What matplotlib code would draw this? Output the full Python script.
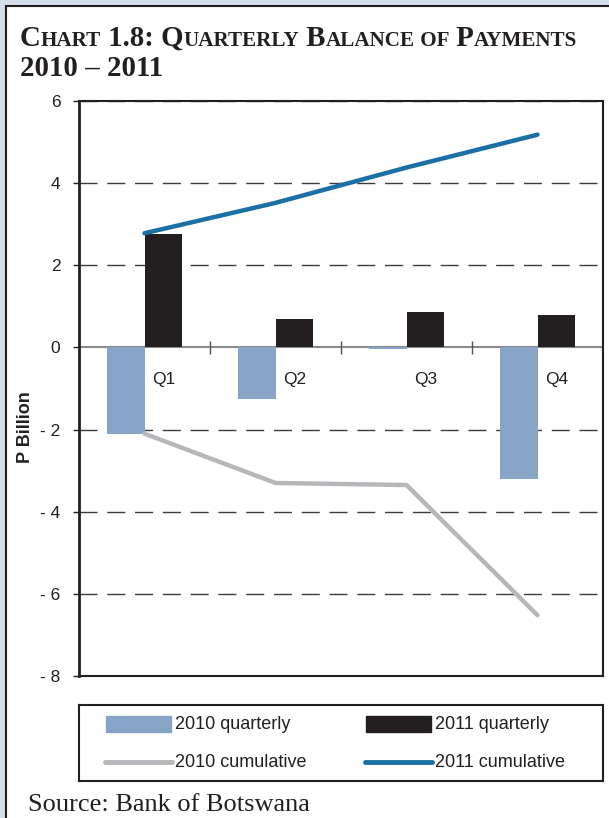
import numpy as np
import matplotlib.pyplot as plt
from matplotlib.patches import Rectangle

plt.rcParams['font.family'] = ['Liberation Sans', 'DejaVu Sans']

# quarterly and cumulative balance of payments, P billion
quarters = ["Q1", "Q2", "Q3", "Q4"]
q2010 = [-2.10, -1.26, -0.03, -3.21]
q2011 = [2.76, 0.69, 0.86, 0.80]
cum2010 = [-2.10, -3.30, -3.35, -6.52]
cum2011 = [2.78, 3.52, 4.38, 5.18]
yticks = [6, 4, 2, 0, -2, -4, -6, -8]

c_bar10 = "#87a4c7"
c_bar11 = "#231f20"
c_cum10 = "#b5b7ba"
c_cum11 = "#1a6fa5"
c_dark = "#231f20"

W, H = 609, 818
fig = plt.figure(figsize=(W / 100, H / 100), dpi=100)
fig.patch.set_facecolor("#d5dfeb")


def fx(x):
    return x / W


def fy(y):
    return 1 - y / H


# white page panel
fig.patches.append(Rectangle((fx(6), fy(830)), fx(630 - 6), (830 - 6) / H,
                             transform=fig.transFigure, facecolor="white",
                             edgecolor=c_dark, lw=1.5, zorder=-5))

# title with small caps
def small_caps(x, y, parts):
    r = fig.canvas.get_renderer()
    for s, size in parts:
        t = fig.text(fx(x), fy(y), s, fontsize=size, weight="bold",
                     family="Liberation Serif", va="baseline", ha="left",
                     color=c_dark)
        x = t.get_window_extent(r).x1


big, sm = 20.8, 15.2
small_caps(20, 46, [("C", big), ("HART", sm), (" 1.8: Q", big), ("UARTERLY", sm),
                    (" B", big), ("ALANCE", sm), (" OF", sm), (" P", big),
                    ("AYMENTS", sm)])
fig.text(fx(20), fy(76), "2010 \u2013 2011", fontsize=big, weight="bold",
         family="Liberation Serif", va="baseline", color=c_dark)

ax = fig.add_axes([fx(79), fy(676), fx(603 - 79), (676 - 101) / H])
x = np.arange(len(quarters))
w = 0.29

for v in [6, 4, 2, -2, -4, -6]:
    ax.axhline(v, color="#3c3c3c", lw=1, linestyle=(0, (13, 7)), zorder=1)
ax.axhline(0, color="#8a8a8a", lw=1.5, zorder=1)
ax.vlines([0.5, 1.5, 2.5], -0.15, 0.15, color="#555555", lw=1, zorder=1)

ax.bar(x - w / 2, q2010, w, color=c_bar10, zorder=2)
ax.bar(x + w / 2, q2011, w, color=c_bar11, zorder=2)
ax.plot(x, cum2010, color=c_cum10, lw=3.2, solid_capstyle="round", zorder=3)
ax.plot(x, cum2011, color=c_cum11, lw=3.2, solid_capstyle="round", zorder=3)

for i, q in enumerate(quarters):
    ax.text(x[i] + w / 2, -0.77, q, ha="center", va="center", fontsize=12.5,
            color=c_dark)

ax.set_xlim(-0.5, 3.5)
ax.set_ylim(-8, 6)
ax.set_xticks([])
ax.set_yticks(yticks)
ax.set_yticklabels([f"- {abs(v)}" if v < 0 else str(v) for v in yticks])
ax.tick_params(axis="y", direction="out", length=4.5, width=1, color=c_dark,
               pad=9, labelsize=12.5, labelcolor=c_dark)
for s in ax.spines.values():
    s.set_color(c_dark)
    s.set_linewidth(1.5)
ax.spines["left"].set_linewidth(2)

fig.text(fx(25), fy(427), "P Billion", rotation=90, weight="bold", fontsize=13,
         ha="center", va="center", color=c_dark)

# legend box
lax = fig.add_axes([fx(79), fy(781), fx(603 - 79), (781 - 705) / H])
lax.set_xlim(79, 603)
lax.set_ylim(781, 705)
lax.set_xticks([])
lax.set_yticks([])
for s in lax.spines.values():
    s.set_color(c_dark)
    s.set_linewidth(1.5)

entries = [("bar", c_bar10, "2010 quarterly", 106, 724),
           ("bar", c_bar11, "2011 quarterly", 366, 724),
           ("line", c_cum10, "2010 cumulative", 106, 762),
           ("line", c_cum11, "2011 cumulative", 366, 762)]
for kind, col, label, x0, y0 in entries:
    if kind == "bar":
        lax.add_patch(Rectangle((x0, y0 - 8), 65, 16, color=col))
    else:
        lax.plot([x0 - 1, x0 + 66], [y0, y0], color=col, lw=3.5,
                 solid_capstyle="round")
    lax.text(x0 + 69, y0, label, fontsize=13, va="center", ha="left",
             color=c_dark)

fig.text(fx(28), fy(811), "Source: Bank of Botswana", family="Liberation Serif",
         fontsize=19, va="baseline", color=c_dark)

fig.savefig("out.png", dpi=100, facecolor=fig.get_facecolor())
